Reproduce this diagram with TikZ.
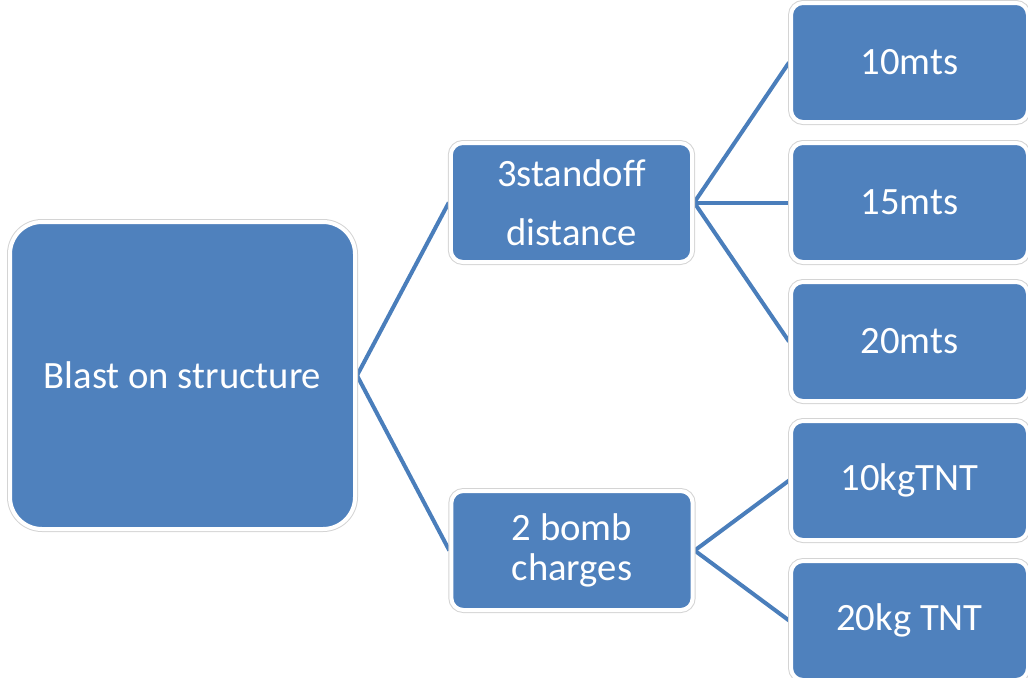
\documentclass[tikz,border=0pt]{standalone}
\usepackage{fontspec}
\setmainfont{Carlito}
\usetikzlibrary{backgrounds}
\definecolor{boxblue}{HTML}{4F81BD}
\definecolor{lineblue}{HTML}{4A7EBB}
\definecolor{rimgray}{HTML}{D4D4D4}
\begin{document}
\begin{tikzpicture}[x=0.75pt,y=-0.75pt,
  box/.style={rectangle, fill=boxblue, draw=white, line width=3pt,
    preaction={draw=rimgray, line width=4.5pt},
    text=white, font=\fontsize{29}{30}\selectfont, align=center,
    inner sep=0pt, rounded corners=9pt},
  rootbox/.style={box, minimum width=258.75pt, minimum height=230.25pt, rounded corners=24pt},
  midbox/.style={box, minimum width=181pt, minimum height=89.25pt},
  leafbox/.style={box, minimum width=177.75pt, minimum height=89.25pt},
  link/.style={draw=lineblue, line width=3pt}]
\useasboundingbox (0,0) rectangle (1028,678);
\node[rootbox] (root) at (182.5,375.5) {Blast on structure};
\node[midbox] (dist) at (571.5,202.5) {3standoff\\[14pt]distance};
\node[midbox] (bomb) at (572,550.5) {2 bomb\\charges};
\node[leafbox] (l1) at (909.5,62.5) {10mts};
\node[leafbox] (l2) at (909.5,202.5) {15mts};
\node[leafbox] (l3) at (909.5,341.5) {20mts};
\node[leafbox] (l4) at (909.5,480.5) {10kgTNT};
\node[leafbox] (l5) at (909.5,620.5) {20kg TNT};
\begin{scope}[on background layer]
\draw[link] (root.east) -- (dist.west);
\draw[link] (root.east) -- (bomb.west);
\draw[link] (dist.east) -- (l1.west);
\draw[link] (dist.east) -- (l2.west);
\draw[link] (dist.east) -- (l3.west);
\draw[link] (bomb.east) -- (l4.west);
\draw[link] (bomb.east) -- (l5.west);
\end{scope}
\end{tikzpicture}
\end{document}
